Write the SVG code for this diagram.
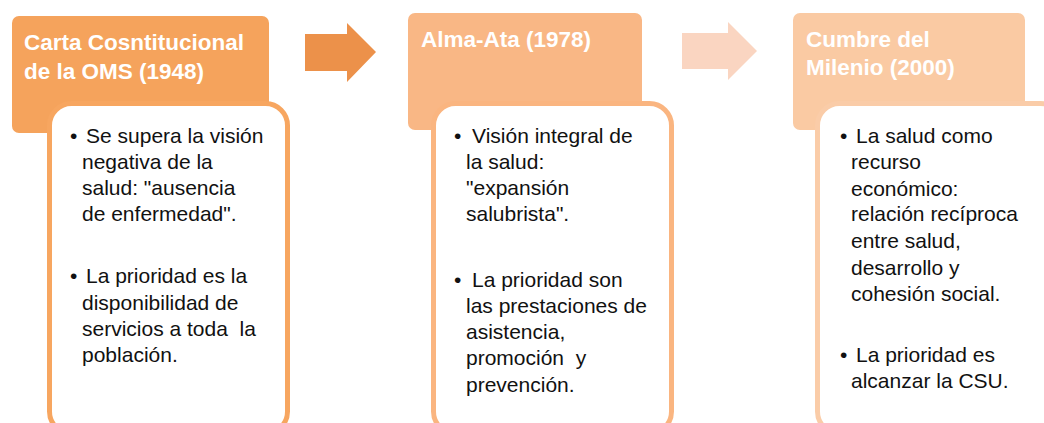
<svg xmlns="http://www.w3.org/2000/svg" width="1044" height="423" viewBox="0 0 1044 423">
<style>
.title{font-family:"Liberation Sans",Arial,sans-serif;font-weight:bold;font-size:22.5px;fill:#ffffff}
.body{font-family:"Liberation Sans",Arial,sans-serif;font-size:21px;fill:#111111;white-space:pre}
.inner{fill:#ffffff;stroke-width:5}
</style>
<rect width="1044" height="423" fill="#ffffff"/>
<g id="connectors">
<polygon points="305,34 347,34 347,23 376,52 347,82 347,71 305,71" fill="#EC914A"/>
<polygon points="682,33 728,33 728,22 757,51 728,80 728,69 682,69" fill="#FAD5C1"/>
</g>
<g id="node1">
<rect x="12" y="16" width="257" height="117" rx="7" fill="#F5A35C"/>
<text class="title" x="24" y="50">Carta Cosntitucional</text>
<text class="title" x="24" y="79">de la OMS (1948)</text>
<rect class="inner" x="49.5" y="103.5" width="238" height="330" rx="22" stroke="#F7A660"/>
<text class="body" x="70" y="143">•</text>
<text class="body" x="86" y="143">Se supera la visión</text>
<text class="body" x="82" y="169">negativa de la</text>
<text class="body" x="82" y="195">salud: "ausencia</text>
<text class="body" x="82" y="221">de enfermedad".</text>
<text class="body" x="70" y="283">•</text>
<text class="body" x="86" y="283">La prioridad es la</text>
<text class="body" x="82" y="310">disponibilidad de</text>
<text class="body" x="82" y="336">servicios a toda  la</text>
<text class="body" x="82" y="362">población.</text>
</g>
<g id="node2">
<rect x="408" y="13" width="234" height="117" rx="7" fill="#F9B785"/>
<text class="title" x="421" y="47">Alma-Ata (1978)</text>
<rect class="inner" x="433.5" y="103.5" width="238" height="330" rx="22" stroke="#FAB580"/>
<text class="body" x="454" y="143">•</text>
<text class="body" x="472" y="143">Visión integral de</text>
<text class="body" x="466" y="169">la salud:</text>
<text class="body" x="466" y="195">"expansión</text>
<text class="body" x="466" y="221">salubrista".</text>
<text class="body" x="454" y="287">•</text>
<text class="body" x="472" y="287">La prioridad son</text>
<text class="body" x="466" y="313">las prestaciones de</text>
<text class="body" x="466" y="339">asistencia,</text>
<text class="body" x="466" y="365">promoción  y</text>
<text class="body" x="466" y="392">prevención.</text>
</g>
<g id="node3">
<rect x="793" y="13" width="232" height="117" rx="7" fill="#FACAA3"/>
<text class="title" x="806" y="47">Cumbre del</text>
<text class="title" x="806" y="75">Milenio (2000)</text>
<rect class="inner" x="817.5" y="103.5" width="245" height="330" rx="22" stroke="#FACCA8"/>
<text class="body" x="840" y="143">•</text>
<text class="body" x="856" y="143">La salud como</text>
<text class="body" x="851" y="169">recurso</text>
<text class="body" x="851" y="196">económico:</text>
<text class="body" x="851" y="221">relación recíproca</text>
<text class="body" x="851" y="248">entre salud,</text>
<text class="body" x="851" y="275">desarrollo y</text>
<text class="body" x="851" y="301">cohesión social.</text>
<text class="body" x="840" y="362">•</text>
<text class="body" x="856" y="362">La prioridad es</text>
<text class="body" x="851" y="388">alcanzar la CSU.</text>
</g>
</svg>
